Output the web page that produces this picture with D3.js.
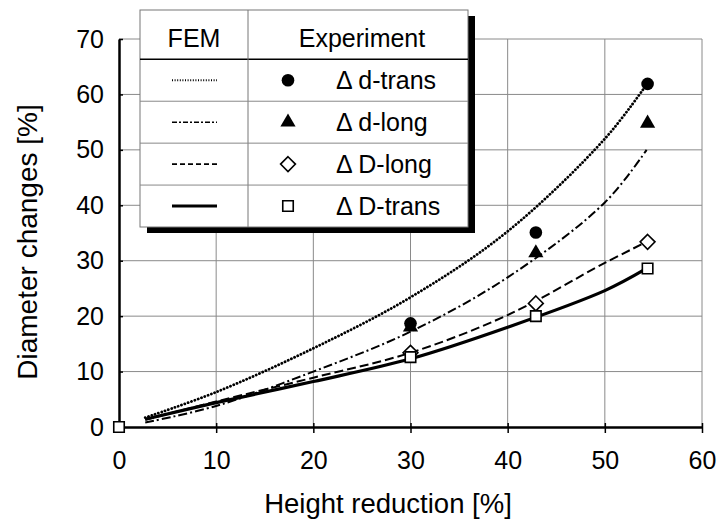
<!DOCTYPE html>
<html>
<head>
<meta charset="utf-8">
<script src="https://cdn.jsdelivr.net/npm/d3@7"></script>
<style>
  body { margin: 0; background: #fff; }
  text { font-family: "Liberation Sans", Arial, sans-serif; fill: #000; }
</style>
</head>
<body>
<svg width="726" height="527"></svg>
<script>
// FEM curves
const femX = [2.7, 10, 20, 30, 40, 50, 54.3];
const femDTrans = [1.7, 6.3, 14.2, 23.4, 35.3, 52.0, 61.8]; // dotted
const femDLong = [0.8, 3.8, 10.0, 17.2, 27.0, 40.5, 50.0];   // dash-dot
const femBigDLong = [1.3, 4.6, 8.9, 13.4, 20.2, 29.6, 33.4]; // dashed
const femBigDTrans = [1.4, 4.4, 8.2, 12.3, 18.0, 24.6, 28.6]; // solid

// experiment points
const expX = [30, 42.9, 54.4];
const expDTrans = [18.7, 35.1, 61.9];
const expDLong = [18.0, 31.4, 54.8];
const expBigDLong = [13.4, 22.3, 33.4];
const expBigDTrans = [12.6, 20.0, 28.6];
const originPoint = [[0, 0]];

const xTicks = [0, 10, 20, 30, 40, 50, 60];
const yTicks = [0, 10, 20, 30, 40, 50, 60, 70];
const legendLabels = ['\u0394 d-trans', '\u0394 d-long', '\u0394 D-long', '\u0394 D-trans'];

const svg = d3.select('svg');
const x = d3.scaleLinear().domain([0, 60]).range([119, 702]);
const y = d3.scaleLinear().domain([0, 70]).range([427, 39]);

// grid
svg.append('g').selectAll('line.v')
  .data(xTicks.slice(1))
  .enter().append('line')
    .attr('x1', d => x(d)).attr('x2', d => x(d))
    .attr('y1', y(70)).attr('y2', y(0))
    .attr('stroke', '#8a8a8a').attr('stroke-width', 1);
svg.append('g').selectAll('line.h')
  .data(yTicks.slice(1))
  .enter().append('line')
    .attr('x1', x(0)).attr('x2', x(60))
    .attr('y1', d => y(d)).attr('y2', d => y(d))
    .attr('stroke', '#8a8a8a').attr('stroke-width', 1);

// axes
const xAxis = svg.append('g')
    .attr('transform', `translate(0,${y(0)})`)
    .call(d3.axisBottom(x).tickValues(xTicks).tickSize(6).tickSizeOuter(0).tickPadding(18));
const yAxis = svg.append('g')
    .attr('transform', `translate(${x(0)},0)`)
    .call(d3.axisLeft(y).tickValues(yTicks).tickSize(5).tickSizeOuter(0).tickPadding(10));
[xAxis, yAxis].forEach(a => {
  a.select('.domain').attr('stroke', '#000').attr('stroke-width', 2.5);
  a.selectAll('.tick line').attr('stroke', '#000').attr('stroke-width', 1.5);
  a.selectAll('.tick text')
    .attr('font-family', '"Liberation Sans", Arial, sans-serif')
    .attr('font-size', 25).attr('fill', '#000');
});
xAxis.selectAll('.tick line').attr('y1', -4);
yAxis.selectAll('.tick line').attr('x2', 4);

// FEM curves
const line = d3.line()
  .x((d, i) => x(femX[i]))
  .y(d => y(d))
  .curve(d3.curveCatmullRom.alpha(0.5));

const curves = [
  { data: femDTrans, dash: '0.1,3.4', width: 2.8, cap: 'round' },
  { data: femDLong, dash: '9,3,2,3', width: 2, cap: 'butt' },
  { data: femBigDLong, dash: '9,4', width: 2, cap: 'butt' },
  { data: femBigDTrans, dash: null, width: 3.2, cap: 'butt' },
];
svg.append('g').selectAll('path')
  .data(curves)
  .enter().append('path')
    .attr('d', d => line(d.data))
    .attr('fill', 'none')
    .attr('stroke', '#000')
    .attr('stroke-width', d => d.width)
    .attr('stroke-linecap', d => d.cap)
    .attr('stroke-dasharray', d => d.dash);

// markers
const diamond = { draw(ctx, size) { const r = Math.sqrt(size / 2); ctx.moveTo(0, -r); ctx.lineTo(r, 0); ctx.lineTo(0, r); ctx.lineTo(-r, 0); ctx.closePath(); } };
const sym = {
  circle: d3.symbol().type(d3.symbolCircle).size(125),
  triangle: d3.symbol().type(d3.symbolTriangle).size(100),
  diamond: d3.symbol().type(diamond).size(110),
  square: d3.symbol().type(d3.symbolSquare).size(110),
};
const series = [
  { vals: expDTrans, shape: 'circle', fill: '#000' },
  { vals: expDLong, shape: 'triangle', fill: '#000' },
  { vals: expBigDLong, shape: 'diamond', fill: '#fff' },
  { vals: expBigDTrans, shape: 'square', fill: '#fff' },
];
series.forEach(s => {
  svg.append('g').selectAll('path')
    .data(s.vals)
    .enter().append('path')
      .attr('transform', (d, i) => `translate(${x(expX[i])},${y(d)})`)
      .attr('d', sym[s.shape])
      .attr('fill', s.fill)
      .attr('stroke', '#000')
      .attr('stroke-width', s.fill === '#000' ? 0 : 1.6);
});
svg.append('g').selectAll('path')
  .data(originPoint)
  .enter().append('path')
    .attr('transform', d => `translate(${x(d[0])},${y(d[1])})`)
    .attr('d', sym.square)
    .attr('fill', '#fff').attr('stroke', '#000').attr('stroke-width', 1.6);

// legend table
const lg = svg.append('g');
const L = { x0: 140, x1: 468, y0: 10, y1: 227, col: 248, head: 59.3 };
const rowH = (L.y1 - L.head) / 4;
lg.append('rect')
  .attr('x', L.x0 + 7).attr('y', L.y0 + 6)
  .attr('width', L.x1 - L.x0).attr('height', L.y1 - L.y0)
  .attr('fill', '#000');
lg.append('rect')
  .attr('x', L.x0).attr('y', L.y0)
  .attr('width', L.x1 - L.x0).attr('height', L.y1 - L.y0)
  .attr('fill', '#fff').attr('stroke', '#777').attr('stroke-width', 1);
lg.append('line')
  .attr('x1', L.x0).attr('x2', L.x1).attr('y1', L.head).attr('y2', L.head)
  .attr('stroke', '#000').attr('stroke-width', 1.5);
lg.append('line')
  .attr('x1', L.col).attr('x2', L.col).attr('y1', L.y0).attr('y2', L.y1)
  .attr('stroke', '#777').attr('stroke-width', 1);
lg.selectAll('line.row')
  .data([1, 2, 3])
  .enter().append('line')
    .attr('x1', L.x0).attr('x2', L.x1)
    .attr('y1', d => L.head + d * rowH).attr('y2', d => L.head + d * rowH)
    .attr('stroke', '#888').attr('stroke-width', 1);
lg.append('text').attr('x', (L.x0 + L.col) / 2).attr('y', 47)
  .attr('text-anchor', 'middle').attr('font-size', 25).text('FEM');
lg.append('text').attr('x', 362).attr('y', 47)
  .attr('text-anchor', 'middle').attr('font-size', 25).text('Experiment');

const legendDash = ['1,1.6', '5,2,2,2', '5,3', null];
const legendWidth = [1.8, 1.6, 1.6, 3];
legendLabels.forEach((lab, i) => {
  const cy = L.head + (i + 0.5) * rowH;
  lg.append('line')
    .attr('x1', 172).attr('x2', 217).attr('y1', cy).attr('y2', cy)
    .attr('stroke', '#000').attr('stroke-width', legendWidth[i])
    .attr('stroke-dasharray', legendDash[i]);
  lg.append('path')
    .attr('transform', `translate(288,${cy})`)
    .attr('d', sym[series[i].shape])
    .attr('fill', series[i].fill)
    .attr('stroke', '#000')
    .attr('stroke-width', series[i].fill === '#000' ? 0 : 1.6);
  lg.append('text').attr('x', 336).attr('y', cy + 9)
    .attr('font-size', 25).text(lab);
});

// axis titles
svg.append('text')
  .attr('x', 388).attr('y', 513)
  .attr('text-anchor', 'middle').attr('font-size', 27.5)
  .text('Height reduction [%]');
svg.append('text')
  .attr('transform', 'translate(37,242) rotate(-90)')
  .attr('text-anchor', 'middle').attr('font-size', 28)
  .text('Diameter changes [%]');
</script>
</body>
</html>
